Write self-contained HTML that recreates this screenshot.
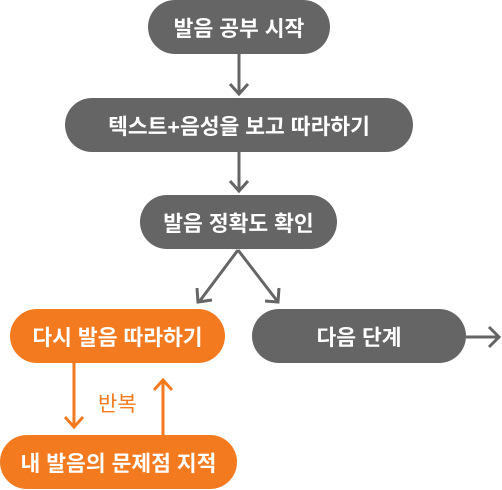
<!DOCTYPE html>
<html><head><meta charset="utf-8"><style>
body{margin:0;width:502px;height:490px;background:#fff;position:relative;overflow:hidden;font-family:"Liberation Sans","Noto Sans CJK KR",sans-serif;}
.n{position:absolute;height:54px;border-radius:27px;color:#fff;font-weight:bold;font-size:21.5px;display:flex;align-items:center;justify-content:center;background:#646564;}
.o{background:#f47a1f;}
svg{position:absolute;left:0;top:0;}
</style></head><body>
<svg width="502" height="490">
<g stroke="#646564" stroke-width="3" fill="none">
<path d="M239 54V94M230 84l9 10 9-10"/>
<path d="M239 152V191M230 181l9 10 9-10"/>
<path d="M238 250L199 302M197 288l1 14 14-2"/>
<path d="M238 250L278 302M265 301l13 1 1-14"/>
<path d="M466 337H499M489 327l10 10-10 10"/>
</g>
<g stroke="#f47a1f" stroke-width="3" fill="none">
<path d="M74 363V427M65 417l9 10 9-10"/>
<path d="M163 435V380M154 390l9-10 9 10"/>
</g>
<text x="98" y="411" fill="#f47a1f" font-size="21" font-family="Liberation Sans,Noto Sans CJK KR,sans-serif">반복</text>
</svg>
<div class="n" style="left:148px;top:0;width:182px">발음 공부 시작</div>
<div class="n" style="left:65px;top:98px;width:348px">텍스트+음성을 보고 따라하기</div>
<div class="n" style="left:140px;top:195px;width:197px">발음 정확도 확인</div>
<div class="n o" style="left:10px;top:309px;width:215px">다시 발음 따라하기</div>
<div class="n" style="left:252px;top:309px;width:214px">다음 단계</div>
<div class="n o" style="left:0;top:435px;width:237px">내 발음의 문제점 지적</div>
</body></html>
